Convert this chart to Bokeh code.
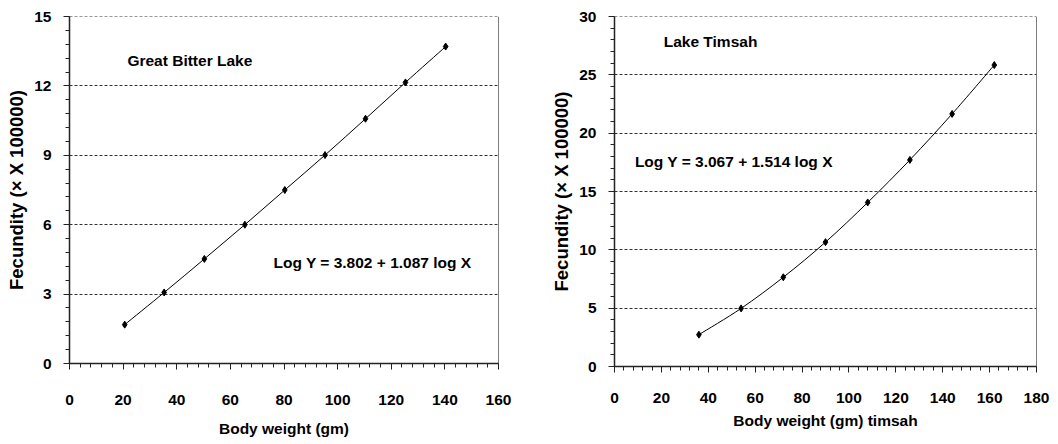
from bokeh.plotting import figure
from bokeh.models import Range1d, SingleIntervalTicker, Span, ColumnDataSource
from bokeh.layouts import row
from bokeh.embed import file_html
from bokeh.resources import INLINE
from bokeh.core.properties import value

# ---- data ----
gbl_weight = [20.6, 35.3, 50.3, 65.4, 80.3, 95.3, 110.4, 125.3, 140.3]
gbl_fecundity = [1.68, 3.07, 4.52, 6.0, 7.5, 9.01, 10.58, 12.15, 13.7]

tim_weight = [36, 54, 72, 90, 108, 126, 144, 162]
tim_fecundity = [2.73, 4.98, 7.65, 10.66, 14.06, 17.71, 21.65, 25.84]

gbl_title = "Great Bitter Lake"
gbl_eq = "Log Y = 3.802 + 1.087 log X"
tim_title = "Lake Timsah"
tim_eq = "Log Y = 3.067 + 1.514 log X"
y_label = "Fecundity (× X 100000)"
gbl_xlabel = "Body weight (gm)"
tim_xlabel = "Body weight (gm) timsah"

FONT = "Liberation Sans"
FONT_V = value(FONT)
FS = "15.5px"


def smooth_segments(xs, ys):
    """Catmull-Rom style bezier segments through the data points (Excel smoothed line)."""
    n = len(xs)
    x0, y0, x1, y1, cx0, cy0, cx1, cy1 = [], [], [], [], [], [], [], []
    for i in range(n - 1):
        pxm = xs[i - 1] if i > 0 else xs[i]
        pym = ys[i - 1] if i > 0 else ys[i]
        pxp = xs[i + 2] if i + 2 < n else xs[i + 1]
        pyp = ys[i + 2] if i + 2 < n else ys[i + 1]
        x0.append(xs[i]); y0.append(ys[i])
        x1.append(xs[i + 1]); y1.append(ys[i + 1])
        cx0.append(xs[i] + (xs[i + 1] - pxm) / 6.0)
        cy0.append(ys[i] + (ys[i + 1] - pym) / 6.0)
        cx1.append(xs[i + 1] - (pxp - xs[i]) / 6.0)
        cy1.append(ys[i + 1] - (pyp - ys[i]) / 6.0)
    return dict(x0=x0, y0=y0, x1=x1, y1=y1, cx0=cx0, cy0=cy0, cx1=cx1, cy1=cy1)


def make_panel(xs, ys, xmax, ymax, ystep, xlabel, title, title_pos, eq, eq_pos,
               min_left, min_top, frame_w, frame_h, min_right, min_bottom,
               tick_standoff_x, label_standoff_x):
    p = figure(
        output_backend="svg", toolbar_location=None,
        x_range=Range1d(0, xmax), y_range=Range1d(0, ymax),
        frame_width=frame_w, frame_height=frame_h,
        min_border_left=min_left, min_border_right=min_right,
        min_border_top=min_top, min_border_bottom=min_bottom,
        background_fill_color="white", border_fill_color="white",
    )
    p.outline_line_color = None
    p.xgrid.visible = False
    p.ygrid.grid_line_color = "#333333"
    p.ygrid.grid_line_dash = "3 2"
    p.ygrid.grid_line_width = 1

    p.xaxis.ticker = SingleIntervalTicker(interval=20, num_minor_ticks=5)
    p.yaxis.ticker = SingleIntervalTicker(interval=ystep, num_minor_ticks=5)
    for ax in (p.xaxis[0], p.yaxis[0]):
        ax.axis_line_color = "#222222"
        ax.axis_line_width = 1.5
        ax.major_tick_line_color = "#222222"
        ax.minor_tick_line_color = "#222222"
        ax.major_tick_line_width = 1
        ax.minor_tick_line_width = 1
        ax.major_tick_in = 0
        ax.minor_tick_in = 0
        ax.major_tick_out = 6
        ax.minor_tick_out = 4
        ax.major_label_text_font = FONT
        ax.major_label_text_font_style = "bold"
        ax.major_label_text_font_size = FS
        ax.major_label_text_color = "black"
        ax.axis_label_text_font = FONT
        ax.axis_label_text_font_style = "bold"
        ax.axis_label_text_color = "black"
    p.xaxis.major_label_standoff = tick_standoff_x
    p.xaxis.axis_label = xlabel
    p.xaxis.axis_label_text_font_size = FS
    p.xaxis.axis_label_standoff = label_standoff_x
    p.yaxis.major_label_standoff = 12
    p.yaxis.axis_label = y_label
    p.yaxis.axis_label_text_font_size = "18.5px"
    p.yaxis.axis_label_standoff = 4

    # top dashed line and solid right border
    p.add_layout(Span(location=ymax, dimension="width", line_color="#333333",
                      line_width=1, line_dash="3 2"))
    p.add_layout(Span(location=xmax, dimension="height", line_color="black", line_width=1))

    src = ColumnDataSource(smooth_segments(xs, ys))
    p.bezier(x0="x0", y0="y0", x1="x1", y1="y1", cx0="cx0", cy0="cy0", cx1="cx1", cy1="cy1",
             source=src, line_color="black", line_width=1)
    p.scatter(xs, ys, marker="diamond", size=7, color="black")

    p.text(x=[title_pos[0]], y=[title_pos[1]], text=[title], text_font=FONT_V,
           text_font_style="bold", text_font_size=FS, text_baseline="middle",
           text_align="left", text_color="black")
    p.text(x=[eq_pos[0]], y=[eq_pos[1]], text=[eq], text_font=FONT_V,
           text_font_style="bold", text_font_size=FS, text_baseline="middle",
           text_align="left", text_color="black")
    return p


p1 = make_panel(gbl_weight, gbl_fecundity, 160, 15, 3, gbl_xlabel,
                gbl_title, (21.6, 13.1), gbl_eq, (76.1, 4.35),
                min_left=69, min_top=15, frame_w=429, frame_h=347, min_right=42, min_bottom=81,
                tick_standoff_x=25, label_standoff_x=12)
p2 = make_panel(tim_weight, tim_fecundity, 180, 30, 5, tim_xlabel,
                tim_title, (21.0, 27.9), tim_eq, (8.7, 17.6),
                min_left=74, min_top=16, frame_w=422, frame_h=350, min_right=20, min_bottom=77,
                tick_standoff_x=20, label_standoff_x=6)

layout = row(p1, p2)
open("out.html", "w").write(file_html(layout, INLINE))
